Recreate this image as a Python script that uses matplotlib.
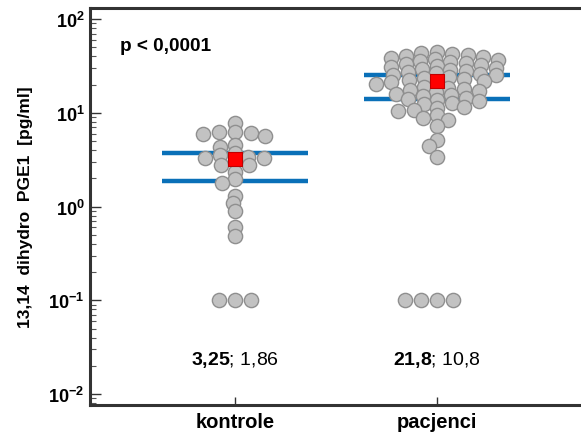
import numpy as np
import matplotlib.pyplot as plt

plt.rcParams['font.family'] = 'Liberation Sans'
plt.rcParams['mathtext.fontset'] = 'custom'
plt.rcParams['mathtext.rm'] = 'Liberation Sans'
plt.rcParams['mathtext.bf'] = 'Liberation Sans:bold'

# 13,14-dihydro PGE1 concentrations [pg/ml]
groups = ['kontrole', 'pacjenci']
kontrole = [7.7, 6.3, 6.25, 6.15, 6.0, 5.65, 4.5, 4.3, 3.75, 3.55, 3.4, 3.3, 3.3,
            3.05, 2.8, 2.8, 2.35, 1.95, 1.77, 1.28, 1.08, 0.89, 0.6, 0.49,
            0.1, 0.1, 0.1]
pacjenci = [44.5, 43, 42, 41.5, 40.5, 39.5, 38.5, 37.5, 36.5, 35.5,
            35, 34, 33, 32.5, 31.5, 31, 30, 29.5, 28.5, 28,
            27, 26.5, 26, 25.5, 25, 24, 23.5, 23, 22.5, 22,
            21.5, 21, 20.5, 19, 18.5, 18, 17.5, 17, 16.5, 16,
            15.5, 15, 14.5, 14, 13.6, 13.2, 12.8, 12.3,
            11.5, 11.2, 10.8, 10.4,
            9.4, 8.7, 8.3, 7.2,
            5.1, 4.4, 3.4,
            0.1, 0.1, 0.1, 0.1]
medians = [3.25, 21.8]
second_vals = [1.86, 10.8]
ci_low = [1.86, 13.9]
ci_high = [3.7, 25.2]
p_text = 'p < 0,0001'

fig = plt.figure(figsize=(5.81, 4.39), dpi=100)
ax = fig.add_axes([90 / 581, 33 / 439, 1 - 90 / 581, 397 / 439])
ax.set_yscale('log')
ax.set_ylim(0.00764, 131)
ax.set_xlim(-0.718, 1.713)


def swarm(ypix, a, b):
    # greedy beeswarm with an elliptical keep-out zone (a wide, b tall, in px)
    placed = []
    xs = np.zeros(len(ypix))
    for i, y in enumerate(ypix):
        cands = [0.0]
        for px, py in placed:
            dy = y - py
            if abs(dy) < b:
                dx = a * np.sqrt(1 - (dy / b) ** 2)
                cands += [px - dx, px + dx]
        for c in sorted(cands, key=abs):
            if all(((c - px) / a) ** 2 + ((y - py) / b) ** 2 >= 1 - 1e-6
                   for px, py in placed):
                xs[i] = c
                break
        placed.append((xs[i], y))
    return xs


px_per_x = ax.transData.transform((1, 1))[0] - ax.transData.transform((0, 1))[0]

for i, vals in enumerate([kontrole, pacjenci]):
    vals = np.array(vals, dtype=float)
    ypix = ax.transData.transform(np.column_stack([np.zeros_like(vals), vals]))[:, 1]
    offs = swarm(ypix, 16.0, 7.0) / px_per_x
    # CI lines and connector
    ax.hlines([ci_low[i], ci_high[i]], i - 0.36, i + 0.36, color='#0a70b8', lw=3.2, zorder=1)
    ax.vlines(i, ci_low[i], ci_high[i], color='#0a70b8', lw=2.5, zorder=1)
    ax.scatter(i + offs, vals, s=105, facecolor='#c2c2c2', edgecolor='#8f8f8f',
               linewidths=1.0, zorder=2)
    ax.scatter([i], [medians[i]], s=110, marker='s', facecolor='#ff0000',
               edgecolor='#c00000', linewidths=0.8, zorder=3)
    med = f"{medians[i]:g}".replace('.', '{,}')
    sec = f"{second_vals[i]:g}".replace('.', ',')
    ax.text(i, 0.0235, f"$\\mathbf{{{med}}}$; {sec}", ha='center', va='center',
            fontsize=14)

ax.text(0.062, 0.905, p_text, transform=ax.transAxes, fontsize=13.7,
        fontweight='bold', ha='left', va='center')

ax.set_xticks([0, 1])
ax.set_xticklabels(groups, fontsize=14.5, fontweight='bold')
ax.set_yticks([1e-2, 1e-1, 1, 10, 100])
ax.set_yticklabels([f"$\\mathbf{{10^{{{e}}}}}$" for e in [-2, -1, 0, 1, 2]],
                   fontsize=13)
ax.tick_params(axis='y', which='major', direction='in', length=8, width=1,
               color='#333333', pad=4)
ax.tick_params(axis='y', which='minor', direction='in', length=4, width=0.8,
               color='#555555')
ax.tick_params(axis='x', direction='in', length=6, width=1, color='#333333',
               pad=5, top=False)
ax.set_ylabel('13,14  dihydro  PGE1  [pg/ml]', fontsize=12.5, fontweight='bold',
              labelpad=11)

for side in ['left', 'top', 'bottom']:
    ax.spines[side].set_linewidth(2.2)
    ax.spines[side].set_color('#333333')
ax.spines['right'].set_visible(False)

fig.savefig('out.png', dpi=100)
